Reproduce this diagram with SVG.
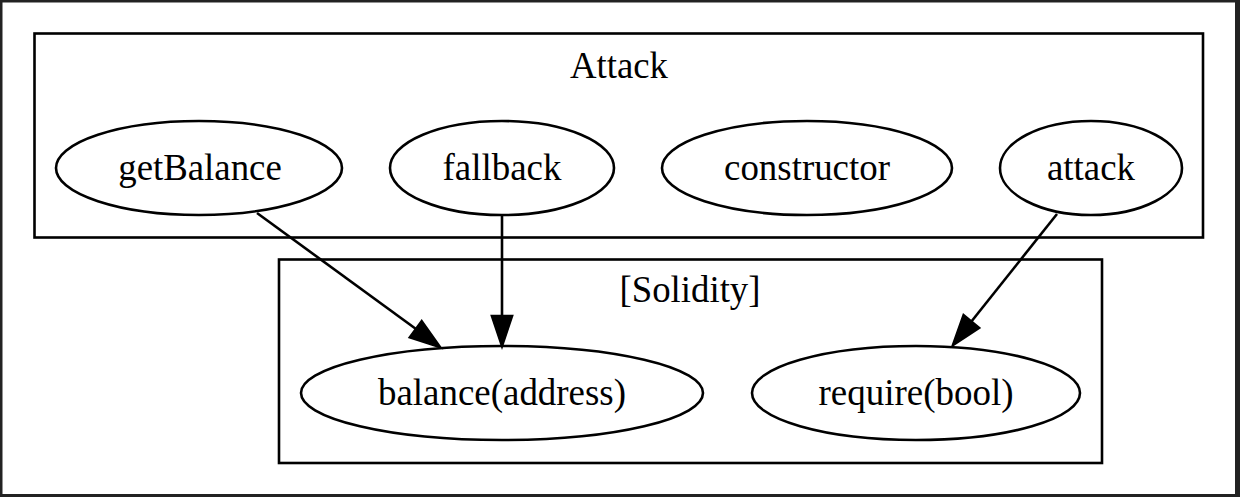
<svg xmlns="http://www.w3.org/2000/svg" width="1240" height="497" viewBox="0 0 1240 497">
<style>
  text { font-family: "Liberation Serif", "Times New Roman", serif; font-size: 38.5px; fill: #000; text-anchor: middle; }
  .cluster { fill: none; stroke: #000; stroke-width: 2.6; }
  .node ellipse { fill: none; stroke: #000; stroke-width: 2.6; }
  .edge line { stroke: #000; stroke-width: 2.6; }
  .edge polygon { fill: #000; stroke: #000; stroke-width: 2.6; }
</style>
<rect x="0" y="0" width="1240" height="497" fill="#222"/>
<rect x="2.5" y="2.5" width="1232.5" height="491.5" fill="#fff"/>
<g id="cluster_Attack">
  <rect class="cluster" x="34.5" y="33.5" width="1168.5" height="204"/>
  <text x="619" y="78" textLength="98" lengthAdjust="spacingAndGlyphs">Attack</text>
</g>
<g id="cluster_Solidity">
  <rect class="cluster" x="279" y="259.5" width="823" height="203.5"/>
  <text x="690" y="302" textLength="141" lengthAdjust="spacingAndGlyphs">[Solidity]</text>
</g>
<g id="node_getBalance" class="node">
  <ellipse cx="199" cy="168" rx="143" ry="47"/>
  <text x="200" y="179.5" textLength="163.5" lengthAdjust="spacingAndGlyphs">getBalance</text>
</g>
<g id="node_fallback" class="node">
  <ellipse cx="502" cy="168" rx="112" ry="47"/>
  <text x="502" y="179.5" textLength="119" lengthAdjust="spacingAndGlyphs">fallback</text>
</g>
<g id="node_constructor" class="node">
  <ellipse cx="807" cy="168" rx="145" ry="47"/>
  <text x="807" y="179.5" textLength="166" lengthAdjust="spacingAndGlyphs">constructor</text>
</g>
<g id="node_attack" class="node">
  <ellipse cx="1091" cy="168" rx="91" ry="47"/>
  <text x="1091" y="179.5" textLength="88" lengthAdjust="spacingAndGlyphs">attack</text>
</g>
<g id="node_balance" class="node">
  <ellipse cx="502" cy="393" rx="201" ry="47"/>
  <text x="502" y="404.5" textLength="248" lengthAdjust="spacingAndGlyphs">balance(address)</text>
</g>
<g id="node_require" class="node">
  <ellipse cx="916" cy="393" rx="164" ry="47"/>
  <text x="916" y="404.5" textLength="195" lengthAdjust="spacingAndGlyphs">require(bool)</text>
</g>
<g id="connectors">
  <g class="edge">
    <line x1="257" y1="213" x2="416" y2="329"/>
    <polygon points="421.7,321.2 440,347 409.9,337.4"/>
  </g>
  <g class="edge">
    <line x1="502" y1="215" x2="502" y2="316"/>
    <polygon points="492,316 502,346 512,316"/>
  </g>
  <g class="edge">
    <line x1="1057" y1="214" x2="971" y2="322"/>
    <polygon points="979,328 953,345 963.6,315.3"/>
  </g>
</g>
</svg>
